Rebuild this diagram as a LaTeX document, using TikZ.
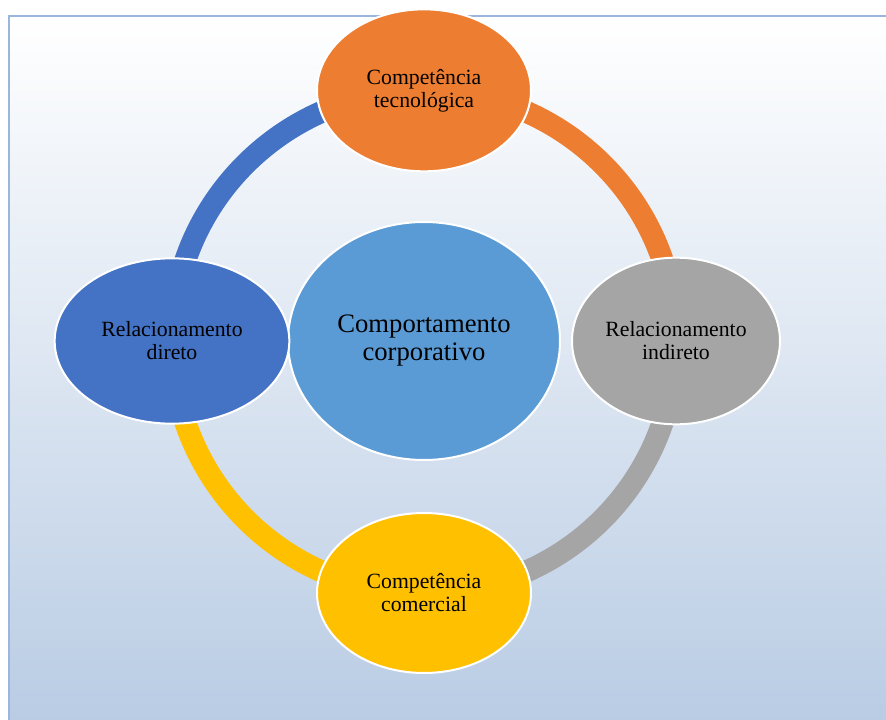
\documentclass[tikz,border=0pt]{standalone}
\usepackage{fontspec}
\setmainfont{Liberation Serif}
\usepackage{tikz}
\usetikzlibrary{positioning,shapes}
\definecolor{myorange}{RGB}{237,125,49}
\definecolor{mygray}{RGB}{165,165,165}
\definecolor{myyellow}{RGB}{255,192,0}
\definecolor{myblue}{RGB}{68,114,196}
\definecolor{mylightblue}{RGB}{91,155,213}
\definecolor{framebottom}{RGB}{185,204,228}
\definecolor{frameline}{RGB}{155,182,220}
\pgfdeclarelayer{background}
\pgfsetlayers{background,main}
\tikzstyle{mynode}=[ellipse, align=center, inner sep=0pt, draw=white, line width=1.5pt, font=\fontsize{16.3}{17.3}\selectfont]
\tikzstyle{outer}=[mynode, minimum width=160.5pt, minimum height=121.5pt]
\tikzstyle{ring}=[line width=16.5pt]

\begin{document}
\begin{tikzpicture}[
    x=0.75pt, y=-0.75pt,
    node distance=189pt,
    on grid]

\useasboundingbox (0,0) rectangle (886,720);

\node[mynode, fill=mylightblue, minimum width=204pt, minimum height=178.5pt,
      font=\fontsize{20}{21}\selectfont] (core) at (424,341) {Comportamento\\corporativo};

\node[outer, fill=myorange, yshift=-1pt] (tech) [above=of core] {Competência\\tecnológica};
\node[outer, fill=mygray, minimum width=156pt, minimum height=125pt] (indirect) [right=of core] {Relacionamento\\indireto};
\node[outer, fill=myyellow, minimum height=120pt] (comm) [below=of core] {Competência\\comercial};
\node[outer, fill=myblue, minimum width=176pt, minimum height=124pt] (direct) [left=of core] {Relacionamento\\direto};

\begin{pgfonlayer}{background}
    \shade[top color=white, bottom color=framebottom] (9,16) rectangle (890,724);
    \draw[frameline, line width=2pt] (9,724) -- (9,16) -- (890,16);

    \begin{scope}[ring]
    \draw[myorange] (tech.center) to [out=0, in=90] (indirect.center);
    \draw[mygray] (indirect.center) to [out=-90, in=0] (comm.center);
    \draw[myyellow] (comm.center) to [out=180, in=-90] (direct.center);
    \draw[myblue] (direct.center) to [out=90, in=180] (tech.center);
    \end{scope}
\end{pgfonlayer}

\end{tikzpicture}
\end{document}
